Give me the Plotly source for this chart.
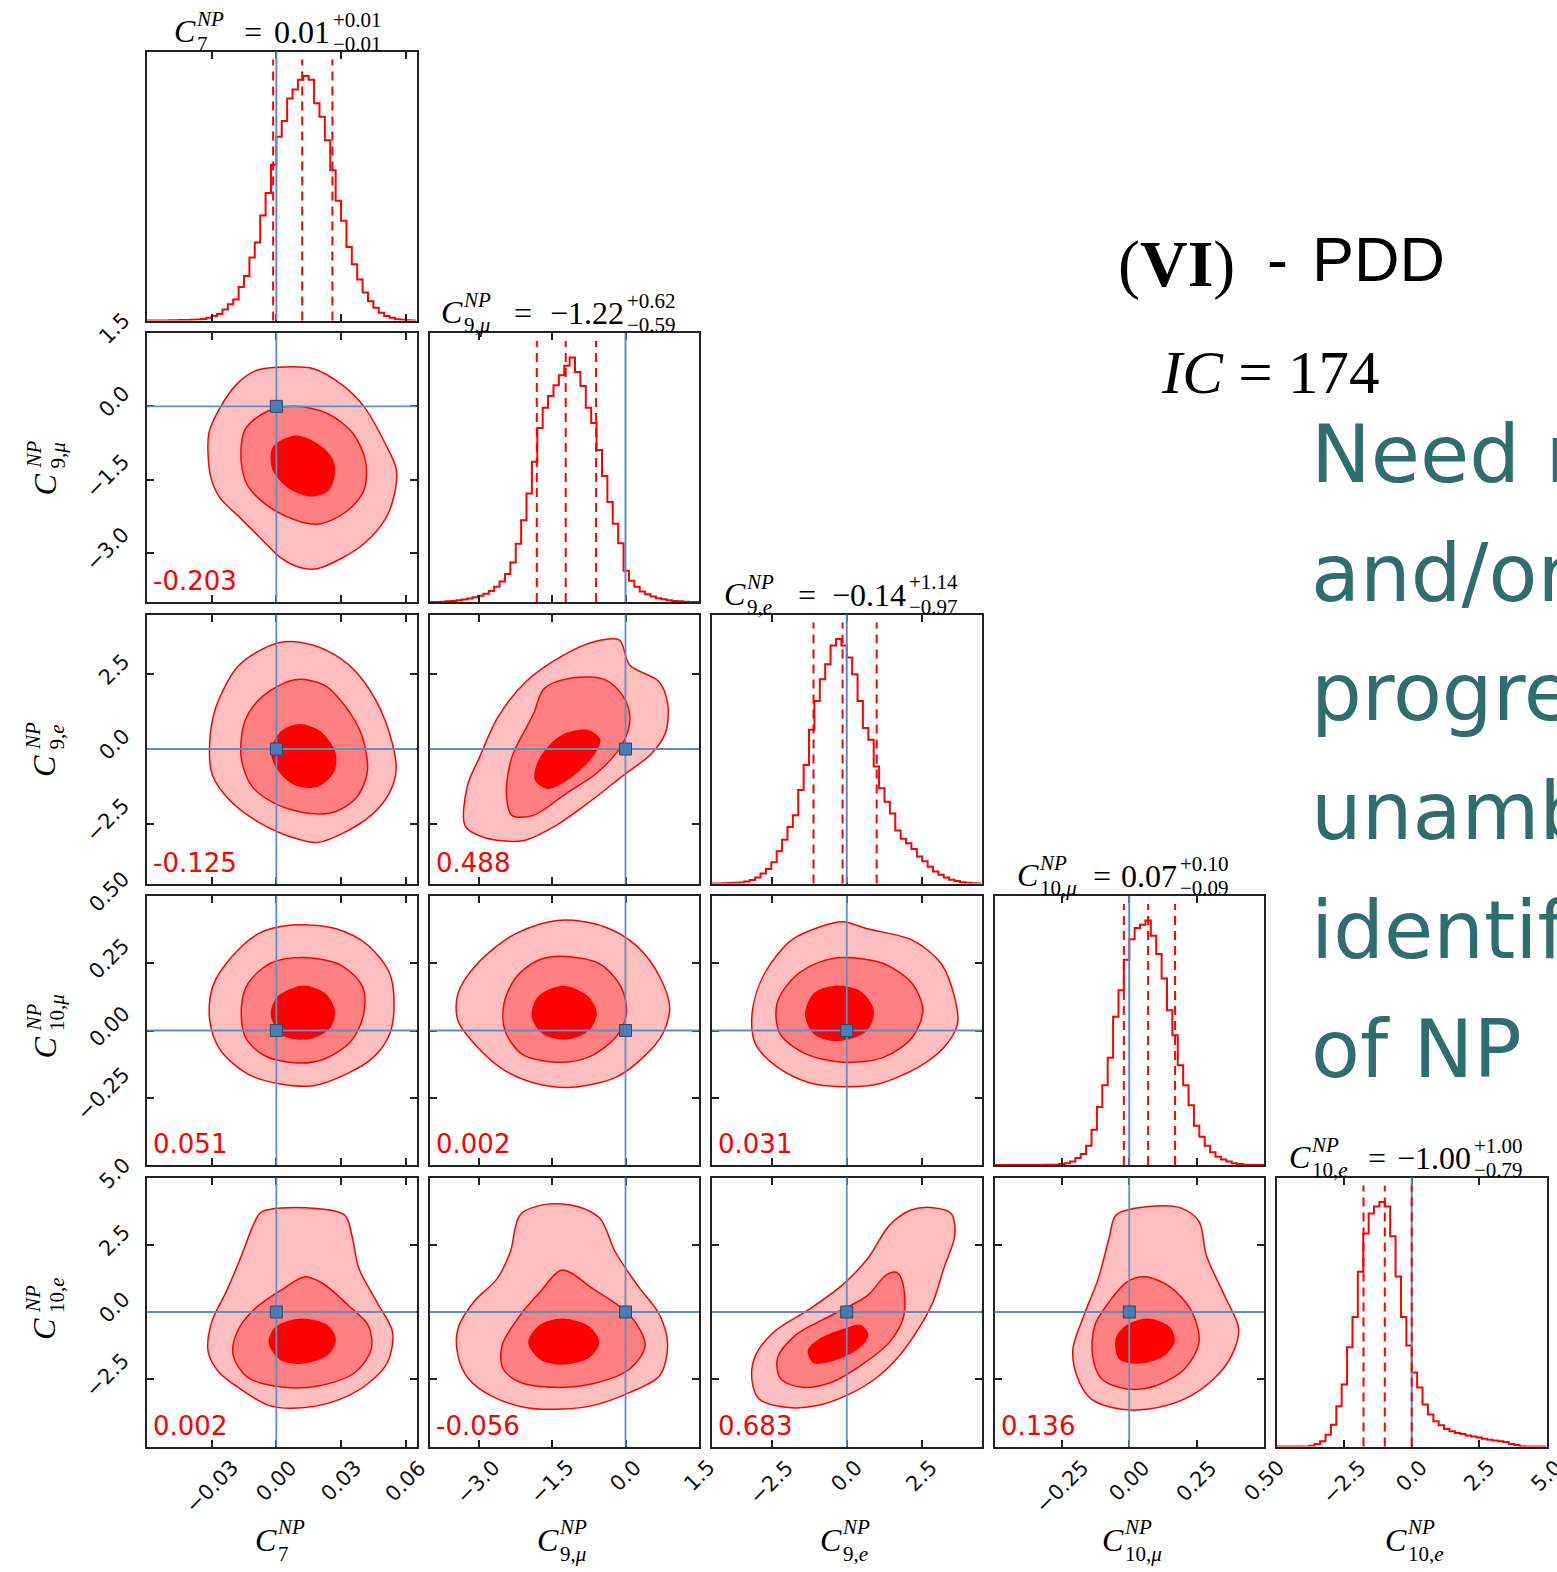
import numpy as np
import plotly.graph_objects as go

W, H = 1557, 1572

# ---------------- data ----------------
param_sub = ["7", "9,<i>μ</i>", "9,<i>e</i>", "10,<i>μ</i>", "10,<i>e</i>"]
ranges = [[-0.06, 0.065], [-4.0, 1.5], [-4.5, 4.5], [-0.5, 0.5], [-5.0, 5.0]]
tick_vals = [[-0.03, 0.0, 0.03, 0.06], [-3.0, -1.5, 0.0, 1.5], [-2.5, 0.0, 2.5],
             [-0.25, 0.0, 0.25, 0.5], [-2.5, 0.0, 2.5, 5.0]]
tick_text = [["−0.03", "0.00", "0.03", "0.06"], ["−3.0", "−1.5", "0.0", "1.5"],
             ["−2.5", "0.0", "2.5"], ["−0.25", "0.00", "0.25", "0.50"],
             ["−2.5", "0.0", "2.5", "5.0"]]
truths = [0.0, 0.0, 0.0, 0.0, 0.0]

title_val = ["0.01", "−1.22", "−0.14", "0.07", "−1.00"]
title_plus = ["+0.01", "+0.62", "+1.14", "+0.10", "+1.00"]
title_minus = ["−0.01", "−0.59", "−0.97", "−0.09", "−0.79"]

q_lo = [-0.0015, -1.81, -1.11, -0.02, -1.79]
q_med = [0.012, -1.22, -0.14, 0.07, -1.00]
q_hi = [0.026, -0.60, 1.00, 0.17, 0.00]

h_c7 = [0, 0, 0, 0, 0.001, 0.001, 0.002, 0.002, 0.003, 0.004,
        0.006, 0.011, 0.018, 0.027, 0.045, 0.066, 0.086, 0.137, 0.182, 0.258,
        0.319, 0.429, 0.521, 0.637, 0.751, 0.816, 0.908, 0.945, 0.984, 1.0,
        0.984, 0.888, 0.833, 0.737, 0.614, 0.490, 0.408, 0.301, 0.230, 0.168,
        0.114, 0.079, 0.052, 0.032, 0.018, 0.011, 0.005, 0.003, 0.001, 0.0]
h_c9mu = [0, 0, 0.001, 0.003, 0.004, 0.007, 0.010, 0.014, 0.019, 0.026,
          0.034, 0.045, 0.062, 0.084, 0.114, 0.162, 0.238, 0.334, 0.444, 0.574,
          0.712, 0.794, 0.842, 0.886, 0.927, 0.966, 1.0, 0.941, 0.883, 0.794,
          0.732, 0.622, 0.515, 0.409, 0.320, 0.240, 0.128, 0.087, 0.062, 0.043,
          0.032, 0.022, 0.015, 0.011, 0.007, 0.004, 0.003, 0.001, 0, 0]
h_c9e = [0, 0, 0.001, 0.002, 0.003, 0.004, 0.008, 0.014, 0.025, 0.041,
         0.059, 0.087, 0.132, 0.179, 0.231, 0.279, 0.382, 0.485, 0.629, 0.746,
         0.835, 0.897, 0.973, 1.0, 0.973, 0.924, 0.856, 0.746, 0.636, 0.588,
         0.478, 0.389, 0.334, 0.286, 0.217, 0.183, 0.165, 0.141, 0.110, 0.091,
         0.069, 0.049, 0.036, 0.025, 0.015, 0.010, 0.005, 0.003, 0.001, 0]
h_c10mu = [0, 0, 0, 0, 0, 0, 0, 0, 0, 0.001,
           0.001, 0.001, 0.004, 0.007, 0.014, 0.029, 0.045, 0.079, 0.144, 0.237,
           0.326, 0.439, 0.606, 0.715, 0.839, 0.923, 0.969, 0.982, 1.0, 0.937,
           0.863, 0.763, 0.633, 0.531, 0.408, 0.326, 0.244, 0.161, 0.116, 0.079,
           0.052, 0.034, 0.023, 0.014, 0.007, 0.004, 0.001, 0, 0, 0]
h_c10e = [0, 0, 0, 0, 0, 0, 0.003, 0.010, 0.021, 0.048,
          0.089, 0.165, 0.254, 0.406, 0.530, 0.715, 0.871, 0.953, 0.981, 1.0,
          0.981, 0.860, 0.695, 0.530, 0.413, 0.303, 0.241, 0.172, 0.131, 0.103,
          0.087, 0.072, 0.062, 0.055, 0.051, 0.045, 0.041, 0.037, 0.032, 0.028,
          0.025, 0.021, 0.018, 0.010, 0.006, 0.001, 0, 0, 0, 0]
hists = [h_c7, h_c9mu, h_c9e, h_c10mu, h_c10e]

# contour polygons (x, y): outer, middle, inner
c9mu_c7_outer = [(-0.0096, 0.73), (0.0004, 0.80), (0.0172, 0.77), (0.0305, 0.44), (0.0406, 0.00), (0.0506, -0.77), (0.0556, -1.28), (0.0548, -1.79), (0.0506, -2.30), (0.0406, -2.81), (0.0305, -3.10), (0.0188, -3.32), (0.0105, -3.29), (0.0021, -3.10), (-0.0079, -2.67), (-0.0163, -2.30), (-0.0263, -1.86), (-0.0305, -1.43), (-0.0313, -0.55), (-0.0263, -0.04), (-0.0180, 0.47)]
c9mu_c7_mid = [(0.0088, 0.00), (0.0239, -0.15), (0.0355, -0.55), (0.0414, -1.13), (0.0406, -1.72), (0.0322, -2.16), (0.0188, -2.41), (0.0004, -2.16), (-0.0129, -1.65), (-0.0163, -1.13), (-0.0146, -0.48), (-0.0046, -0.11)]
c9mu_c7_inner = [(0.0088, -0.61), (0.0188, -0.77), (0.0255, -1.06), (0.0269, -1.35), (0.0239, -1.72), (0.0155, -1.83), (0.0054, -1.65), (-0.0016, -1.28), (-0.0013, -0.84)]

c9e_c7_outer = [(0.0038, 3.59), (0.0172, 3.47), (0.0305, 2.99), (0.0406, 2.26), (0.0506, 0.93), (0.0556, -0.65), (0.0522, -1.50), (0.0439, -2.22), (0.0305, -2.83), (0.0188, -3.13), (0.0071, -2.95), (-0.0079, -2.46), (-0.0213, -1.74), (-0.0296, -0.89), (-0.0310, 0.08), (-0.0280, 1.41), (-0.0180, 2.75), (-0.0063, 3.35)]
c9e_c7_mid = [(0.0088, 2.32), (0.0222, 2.14), (0.0322, 1.41), (0.0397, 0.44), (0.0422, -0.77), (0.0372, -1.62), (0.0272, -2.10), (0.0155, -2.16), (0.0004, -1.86), (-0.0113, -1.25), (-0.0163, -0.28), (-0.0146, 0.93), (-0.0063, 1.77)]
c9e_c7_inner = [(0.0105, 0.81), (0.0205, 0.56), (0.0272, -0.16), (0.0264, -0.77), (0.0188, -1.25), (0.0088, -1.19), (0.0004, -0.65), (-0.0021, -0.04), (0.0021, 0.56)]

c9e_c9mu_outer = [(-0.13, 3.65), (0.09, 2.80), (0.68, 2.26), (0.86, 1.53), (0.82, 0.56), (0.53, -0.16), (-0.05, -0.89), (-0.71, -1.74), (-1.44, -2.58), (-2.10, -3.07), (-2.90, -2.95), (-3.27, -2.58), (-3.23, -1.25), (-2.98, -0.28), (-2.61, 1.05), (-2.03, 2.26), (-1.30, 3.11), (-0.64, 3.59)]
c9e_c9mu_mid = [(-1.08, 2.38), (-0.42, 2.32), (-0.05, 1.77), (0.09, 1.05), (-0.05, 0.20), (-0.56, -0.77), (-1.22, -1.50), (-1.88, -2.22), (-2.32, -2.22), (-2.43, -1.50), (-2.32, -0.28), (-1.88, 1.17), (-1.66, 2.02)]
c9e_c9mu_inner = [(-0.78, 0.62), (-0.53, 0.32), (-0.64, -0.16), (-1.08, -0.89), (-1.59, -1.31), (-1.84, -1.01), (-1.73, -0.28), (-1.30, 0.44)]

c10mu_c7_outer = [(0.0071, 0.392), (0.0273, 0.379), (0.0425, 0.317), (0.0526, 0.211), (0.0546, 0.100), (0.0526, -0.012), (0.0450, -0.100), (0.0324, -0.162), (0.0172, -0.205), (0.0020, -0.199), (-0.0132, -0.162), (-0.0258, -0.075), (-0.0309, 0.037), (-0.0296, 0.162), (-0.0207, 0.274), (-0.0081, 0.361)]
c10mu_c7_mid = [(0.0121, 0.271), (0.0299, 0.243), (0.0400, 0.162), (0.0405, 0.062), (0.0349, -0.037), (0.0223, -0.106), (0.0096, -0.121), (-0.0056, -0.093), (-0.0144, -0.025), (-0.0162, 0.087), (-0.0132, 0.174), (-0.0030, 0.249)]
c10mu_c7_inner = [(0.0121, 0.164), (0.0223, 0.137), (0.0268, 0.075), (0.0248, 0.012), (0.0172, -0.025), (0.0096, -0.031), (0.0020, -0.012), (-0.0023, 0.062), (0.0008, 0.124)]

c10mu_c9mu_outer = [(-1.33, 0.410), (-0.43, 0.386), (0.25, 0.311), (0.70, 0.199), (0.90, 0.087), (0.76, -0.012), (0.36, -0.100), (-0.20, -0.174), (-1.11, -0.211), (-1.78, -0.199), (-2.46, -0.149), (-3.02, -0.062), (-3.42, 0.037), (-3.42, 0.137), (-3.02, 0.249), (-2.23, 0.361)]
c10mu_c9mu_mid = [(-1.33, 0.276), (-0.54, 0.249), (-0.09, 0.162), (0.02, 0.062), (-0.20, -0.025), (-0.77, -0.100), (-1.44, -0.118), (-2.12, -0.087), (-2.46, 0.0), (-2.48, 0.100), (-2.23, 0.199), (-1.78, 0.261)]
c10mu_c9mu_inner = [(-1.27, 0.164), (-0.77, 0.124), (-0.60, 0.062), (-0.77, 0.0), (-1.22, -0.031), (-1.67, -0.012), (-1.90, 0.050), (-1.78, 0.124)]

c10mu_c9e_outer = [(-0.12, 0.404), (0.65, 0.379), (2.19, 0.336), (3.15, 0.249), (3.60, 0.124), (3.70, 0.025), (3.25, -0.062), (2.38, -0.137), (1.04, -0.199), (-0.12, -0.209), (-1.27, -0.193), (-2.30, -0.137), (-3.05, -0.050), (-3.15, 0.075), (-2.75, 0.211), (-1.85, 0.336), (-0.88, 0.386)]
c10mu_c9e_mid = [(-0.12, 0.271), (1.23, 0.249), (2.19, 0.174), (2.54, 0.075), (2.19, -0.025), (1.23, -0.100), (-0.12, -0.118), (-1.37, -0.087), (-2.23, -0.012), (-2.33, 0.100), (-1.75, 0.199), (-0.88, 0.255)]
c10mu_c9e_inner = [(-0.40, 0.164), (0.46, 0.143), (0.88, 0.075), (0.65, 0.0), (-0.31, -0.037), (-1.08, -0.012), (-1.37, 0.062), (-1.08, 0.137)]

c10e_c7_outer = [(-0.0067, 3.73), (0.0133, 3.88), (0.0316, 3.61), (0.0350, 2.86), (0.0383, 1.62), (0.0466, 0.37), (0.0539, -0.75), (0.0516, -1.87), (0.0433, -2.61), (0.0300, -3.23), (0.0133, -3.55), (-0.0033, -3.48), (-0.0167, -2.86), (-0.0266, -2.24), (-0.0316, -1.49), (-0.0300, -0.37), (-0.0233, 0.75), (-0.0167, 1.99), (-0.0100, 3.36)]
c10e_c7_mid = [(0.0133, 1.31), (0.0216, 1.06), (0.0333, 0.25), (0.0426, -0.50), (0.0440, -1.37), (0.0366, -2.24), (0.0200, -2.74), (0.0033, -2.80), (-0.0133, -2.43), (-0.0200, -1.62), (-0.0183, -0.75), (-0.0100, 0.12), (0.0033, 0.87)]
c10e_c7_inner = [(0.0117, -0.27), (0.0233, -0.50), (0.0273, -1.00), (0.0240, -1.56), (0.0117, -1.90), (0.0017, -1.74), (-0.0033, -1.12), (0.0, -0.56)]

c10e_c9mu_outer = [(-1.59, 4.01), (-0.98, 3.92), (-0.52, 3.48), (-0.21, 2.24), (0.24, 1.00), (0.70, -0.12), (0.86, -1.24), (0.70, -2.36), (0.09, -2.99), (-0.67, -3.48), (-1.29, -3.61), (-2.05, -3.55), (-2.75, -3.11), (-3.20, -2.49), (-3.42, -1.62), (-3.42, -0.62), (-3.10, 0.37), (-2.62, 1.24), (-2.35, 2.24), (-2.15, 3.61)]
c10e_c9mu_mid = [(-1.29, 1.56), (-0.67, 0.87), (0.09, -0.12), (0.40, -1.24), (0.09, -2.11), (-0.67, -2.67), (-1.44, -2.80), (-2.15, -2.61), (-2.50, -2.11), (-2.52, -1.24), (-2.15, -0.12), (-1.74, 0.75)]
c10e_c9mu_inner = [(-1.29, -0.27), (-0.75, -0.56), (-0.55, -1.12), (-0.75, -1.68), (-1.29, -1.93), (-1.74, -1.74), (-1.97, -1.12), (-1.74, -0.50)]

c10e_c9e_outer = [(2.88, 3.88), (3.48, 3.67), (3.61, 2.86), (3.24, 1.62), (2.88, 0.37), (2.40, -0.62), (1.67, -1.74), (0.94, -2.49), (-0.02, -3.11), (-0.99, -3.48), (-1.96, -3.55), (-2.93, -3.23), (-3.17, -2.49), (-3.05, -1.62), (-2.44, -0.75), (-1.23, 0.12), (-0.15, 1.00), (0.70, 1.99), (1.43, 3.23), (2.15, 3.79)]
c10e_c9e_mid = [(1.67, 1.47), (1.86, 1.12), (1.91, -0.12), (1.43, -1.12), (0.46, -1.99), (-0.51, -2.61), (-1.48, -2.80), (-2.20, -2.49), (-2.32, -1.74), (-1.72, -0.87), (-0.51, -0.12), (0.70, 0.62), (1.31, 1.37)]
c10e_c9e_inner = [(0.46, -0.50), (0.70, -0.87), (0.34, -1.37), (-0.51, -1.81), (-1.11, -1.87), (-1.28, -1.43), (-0.87, -1.00), (-0.02, -0.62)]

c10e_c10mu_outer = [(0.072, 3.92), (0.193, 3.86), (0.259, 3.36), (0.286, 2.11), (0.353, 0.62), (0.406, -0.62), (0.380, -1.62), (0.313, -2.49), (0.206, -3.23), (0.072, -3.61), (-0.035, -3.61), (-0.142, -3.23), (-0.195, -2.36), (-0.209, -1.37), (-0.168, -0.12), (-0.115, 1.24), (-0.075, 2.74), (-0.048, 3.61)]
c10e_c10mu_mid = [(0.059, 1.31), (0.152, 0.93), (0.233, 0.0), (0.259, -1.12), (0.206, -2.11), (0.099, -2.74), (-0.008, -2.86), (-0.102, -2.49), (-0.136, -1.62), (-0.128, -0.50), (-0.075, 0.37), (-0.008, 1.12)]
c10e_c10mu_inner = [(0.072, -0.27), (0.152, -0.62), (0.166, -1.12), (0.126, -1.62), (0.045, -1.89), (-0.035, -1.74), (-0.048, -1.00), (-0.008, -0.50)]

contours = {
    (1, 0): (c9mu_c7_outer, c9mu_c7_mid, c9mu_c7_inner),
    (2, 0): (c9e_c7_outer, c9e_c7_mid, c9e_c7_inner),
    (2, 1): (c9e_c9mu_outer, c9e_c9mu_mid, c9e_c9mu_inner),
    (3, 0): (c10mu_c7_outer, c10mu_c7_mid, c10mu_c7_inner),
    (3, 1): (c10mu_c9mu_outer, c10mu_c9mu_mid, c10mu_c9mu_inner),
    (3, 2): (c10mu_c9e_outer, c10mu_c9e_mid, c10mu_c9e_inner),
    (4, 0): (c10e_c7_outer, c10e_c7_mid, c10e_c7_inner),
    (4, 1): (c10e_c9mu_outer, c10e_c9mu_mid, c10e_c9mu_inner),
    (4, 2): (c10e_c9e_outer, c10e_c9e_mid, c10e_c9e_inner),
    (4, 3): (c10e_c10mu_outer, c10e_c10mu_mid, c10e_c10mu_inner),
}
corr = {(1, 0): "-0.203", (2, 0): "-0.125", (2, 1): "0.488",
        (3, 0): "0.051", (3, 1): "0.002", (3, 2): "0.031",
        (4, 0): "0.002", (4, 1): "-0.056", (4, 2): "0.683", (4, 3): "0.136"}

note_lines = ["Need more data", "and/or theory", "progress for",
              "unambiguous", "identification", "of NP"]

# ---------------- layout geometry (pixels) ----------------
COL_L = [147, 429.5, 712, 994.5, 1277]
ROW_T = [51.5, 333, 614.5, 896, 1177.5]
PW, PH = 269.5, 269
# title pieces: left of NP/sub block, left of "=", left of +/- stack
TITLE_BLOCK = [195, 462, 745, 1038, 1310]
TITLE_EQ = [243, 513, 797, 1092, 1367]
TITLE_STACK = [332, 626, 908, 1179, 1473]

RED = "#FF0000"
BLUE = "#5B8FC6"
FILLS = ["#FFBFBF", "#FF8080", "#FF0000"]
SERIF = "Liberation Serif"
SANS = "DejaVu Sans"
AXC = "#222222"
TICKFONT = dict(family=SANS, size=21, color="#111111")
MAIN, SCRIPT = 32, 21


def fx(px):
    return px / W


def fy(py):
    return 1 - py / H


fig = go.Figure()
layout = dict(width=W, height=H, autosize=False,
              margin=dict(l=0, r=0, t=0, b=0, pad=0, autoexpand=False),
              paper_bgcolor="white", plot_bgcolor="white", showlegend=False)
shapes = []
annotations = []


def ann(text, px, py, size, family, color="black", xa="left", ya="middle", angle=0):
    annotations.append(dict(text=text, x=fx(px), y=fy(py), xref="paper", yref="paper",
                            xanchor=xa, yanchor=ya, showarrow=False, textangle=angle,
                            borderpad=0,
                            font=dict(size=size, family=family, color=color)))


k = 0
for r in range(5):
    for c in range(r + 1):
        k += 1
        xr = "x" if k == 1 else f"x{k}"
        yr = "y" if k == 1 else f"y{k}"
        xkey = "xaxis" if k == 1 else f"xaxis{k}"
        ykey = "yaxis" if k == 1 else f"yaxis{k}"
        x0, x1 = COL_L[c], COL_L[c] + PW
        y0, y1 = ROW_T[r], ROW_T[r] + PH
        common = dict(showgrid=False, zeroline=False, showline=True, linecolor=AXC,
                      linewidth=2, mirror="ticks", ticks="inside", ticklen=7,
                      tickwidth=1.5, tickcolor=AXC, automargin=False,
                      showticklabels=False)
        layout[xkey] = dict(common, domain=[fx(x0), fx(x1)], anchor=yr,
                            range=ranges[c], tickvals=tick_vals[c])
        # x tick labels (bottom row), rotated and centred under the tick
        if r == 4:
            for v, t in zip(tick_vals[c], tick_text[c]):
                annotations.append(dict(text=t, x=v, xref=xr, y=fy(1453), yref="paper",
                                        xanchor="center", yanchor="top", textangle=-45,
                                        showarrow=False, font=TICKFONT))
        if r == c:
            layout[ykey] = dict(showgrid=False, zeroline=False, showline=True,
                                linecolor=AXC, linewidth=2, mirror=True, ticks="",
                                showticklabels=False, automargin=False,
                                domain=[fy(y1), fy(y0)], anchor=xr, range=[0, 1.1])
            edges = np.linspace(ranges[c][0], ranges[c][1], len(hists[c]) + 1)
            fig.add_trace(go.Scatter(x=edges, y=list(hists[c]) + [hists[c][-1]],
                                     xaxis=xr, yaxis=yr, mode="lines",
                                     line=dict(color=RED, width=2, shape="hv"),
                                     hoverinfo="skip"))
            shapes.append(dict(type="line", xref=xr, yref=f"{yr} domain",
                               x0=truths[c], x1=truths[c], y0=0, y1=1,
                               line=dict(color=BLUE, width=2)))
            for q in (q_lo[c], q_med[c], q_hi[c]):
                shapes.append(dict(type="line", xref=xr, yref=f"{yr} domain",
                                   x0=q, x1=q, y0=0, y1=0.97,
                                   line=dict(color=RED, width=2, dash="9px,6px")))
            # title  C^NP_sub = value^{+}_{-}
            top = ROW_T[c]
            bl = TITLE_BLOCK[c]
            ann("<i>C</i>", bl + 2, top - 21, MAIN, SERIF, xa="right")
            ann("<i>NP</i>", bl, top - 33, SCRIPT, SERIF)
            ann(param_sub[c], bl + 1, top - 8, SCRIPT, SERIF)
            ann("=", TITLE_EQ[c], top - 20, MAIN, SERIF)
            ann(title_val[c], TITLE_STACK[c] - 1, top - 20, MAIN, SERIF, xa="right")
            ann(title_plus[c], TITLE_STACK[c], top - 32, SCRIPT, SERIF)
            ann(title_minus[c], TITLE_STACK[c], top - 8, SCRIPT, SERIF)
        else:
            layout[ykey] = dict(common, domain=[fy(y1), fy(y0)], anchor=xr,
                                range=ranges[r], tickvals=tick_vals[r])
            if c == 0:
                for v, t in zip(tick_vals[r], tick_text[r]):
                    annotations.append(dict(text=t, x=fx(137), xref="paper", y=v, yref=yr,
                                            xanchor="right", yanchor="middle",
                                            yshift=4, textangle=-45,
                                            showarrow=False, font=TICKFONT))
            for poly, col in zip(contours[(r, c)], FILLS):
                xs = [p[0] for p in poly] + [poly[0][0]]
                ys = [p[1] for p in poly] + [poly[0][1]]
                fig.add_trace(go.Scatter(x=xs, y=ys, xaxis=xr, yaxis=yr, mode="lines",
                                         fill="toself", fillcolor=col,
                                         line=dict(color=RED, width=1.5, shape="spline",
                                                   smoothing=0.9),
                                         hoverinfo="skip"))
            shapes.append(dict(type="line", xref=xr, yref=f"{yr} domain",
                               x0=truths[c], x1=truths[c], y0=0, y1=1,
                               line=dict(color=BLUE, width=1.8)))
            shapes.append(dict(type="line", xref=f"{xr} domain", yref=yr,
                               x0=0, x1=1, y0=truths[r], y1=truths[r],
                               line=dict(color=BLUE, width=1.8)))
            shapes.append(dict(type="rect", xref=xr, yref=yr,
                               xsizemode="pixel", ysizemode="pixel",
                               xanchor=truths[c], yanchor=truths[r],
                               x0=-6, x1=6, y0=-6, y1=6,
                               fillcolor="#4A7DB3", line=dict(color="#2A4A6A", width=1)))
            ann(corr[(r, c)], x0 + 5, y1 - 21, 26, SANS, color=RED)

# axis labels (bottom)
for c in range(5):
    cx = COL_L[c] + PW / 2
    bl = cx - 6
    ann("<i>C</i>", bl + 2, 1540, MAIN, SERIF, xa="right")
    ann("<i>NP</i>", bl, 1527, SCRIPT, SERIF)
    ann(param_sub[c], bl + 1, 1554, SCRIPT, SERIF)

# axis labels (left, rotated)
for r in range(1, 5):
    cy = ROW_T[r] + PH / 2
    ann("<i>C</i>", 44, cy + 17, MAIN, SERIF, xa="center", ya="middle", angle=-90)
    ann("<i>NP</i>", 33, cy + 2, SCRIPT, SERIF, xa="center", ya="bottom", angle=-90)
    ann(param_sub[r], 57, cy + 2, SCRIPT, SERIF, xa="center", ya="bottom", angle=-90)

# right-hand text
ann("(<b>VI</b>)", 1117, 264, 66, SERIF)
ann("-", 1266, 259, 63, "Liberation Sans")
ann("PDD", 1311, 259, 63, "Liberation Sans")
ann("<i>IC</i> = 174", 1160, 372, 61, SERIF)
for i, line in enumerate(note_lines):
    ann(line, 1310, 455 + 118.8 * i, 80, SANS, color="#2E6E6E")

layout["shapes"] = shapes
layout["annotations"] = annotations
fig.update_layout(**layout)
fig.write_html("out.html")
